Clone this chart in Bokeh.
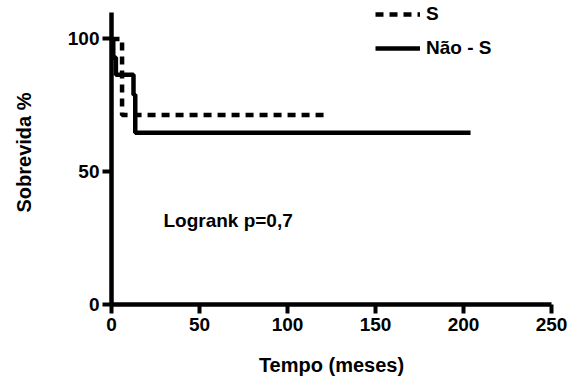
from bokeh.plotting import figure
from bokeh.models import Range1d, Label, Legend, LegendItem, FixedTicker
from bokeh.embed import file_html
from bokeh.resources import INLINE

# Kaplan-Meier curves (time in months, survival %)
time_s = [0, 6, 121]
surv_s = [100, 71.4, 71.4]

time_n = [0, 1, 2.5, 12.5, 13.5, 204]
surv_n = [100, 93, 86.5, 79, 64.7, 64.7]

x_ticks = [0, 50, 100, 150, 200, 250]
y_ticks = [0, 50, 100]
y_axis_max = 110

series_labels = ["S", "Não - S"]
stat_text = "Logrank p=0,7"
x_title = "Tempo (meses)"
y_title = "Sobrevida %"

FONT = "Liberation Sans"

p = figure(width=570, height=378, output_backend="svg", toolbar_location=None,
           x_range=Range1d(0, 250), y_range=Range1d(0, 114.5),
           min_border_left=111, min_border_right=19, min_border_top=0, min_border_bottom=72)
p.outline_line_color = None
p.grid.visible = False
p.background_fill_color = "white"
p.border_fill_color = "white"

r_s = p.step(time_s, surv_s, mode="after", line_color="black", line_width=4.5, line_dash="8 6")
r_n = p.step(time_n, surv_n, mode="after", line_color="black", line_width=4.5)

for ax in (p.xaxis[0], p.yaxis[0]):
    ax.axis_line_width = 4.5
    ax.axis_line_color = "black"
    ax.major_tick_line_width = 4
    ax.major_tick_line_color = "black"
    ax.major_tick_out = 9
    ax.major_tick_in = 0
    ax.minor_tick_line_color = None
    ax.major_label_text_font = FONT
    ax.major_label_text_font_style = "bold"
    ax.major_label_text_font_size = "19px"
    ax.major_label_text_color = "black"
    ax.axis_label_text_font = FONT
    ax.axis_label_text_font_style = "bold"
    ax.axis_label_text_font_size = "20px"
    ax.axis_label_text_color = "black"

p.xaxis[0].ticker = FixedTicker(ticks=x_ticks)
p.yaxis[0].ticker = FixedTicker(ticks=y_ticks)
p.yaxis[0].bounds = (0, y_axis_max)
p.xaxis[0].major_label_standoff = 4
p.yaxis[0].major_label_standoff = 3

p.xaxis[0].axis_label = x_title
p.xaxis[0].axis_label_standoff = 20
p.yaxis[0].axis_label = y_title
p.yaxis[0].axis_label_standoff = 30

stat = Label(x=29.5, y=31.8, text=stat_text, text_align="left", text_baseline="middle",
             text_font=FONT, text_font_style="bold", text_font_size="19px",
             text_color="black")
p.add_layout(stat)

legend = Legend(items=[LegendItem(label=series_labels[0], renderers=[r_s]),
                       LegendItem(label=series_labels[1], renderers=[r_n])],
                location=(264, 245), orientation="vertical",
                glyph_width=45, glyph_height=20, label_height=20, spacing=12,
                padding=0, margin=0, label_standoff=6,
                border_line_alpha=0, background_fill_alpha=0,
                label_text_font=FONT, label_text_font_style="bold",
                label_text_font_size="19px", label_text_color="black")
p.add_layout(legend)

open("out.html", "w").write(file_html(p, INLINE))
